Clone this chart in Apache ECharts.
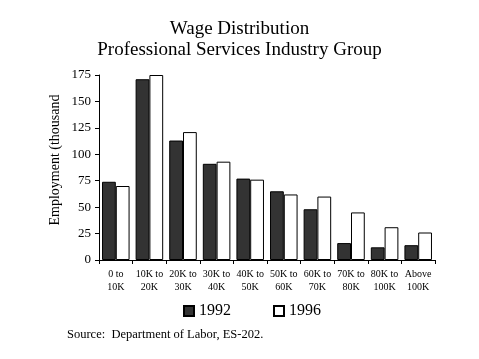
<!DOCTYPE html>
<html><head><meta charset="utf-8">
<script src="https://cdn.jsdelivr.net/npm/echarts@6/dist/echarts.min.js"></script>
<style>html,body{margin:0;padding:0;background:#fff}#c{width:479px;height:359px}</style>
</head><body><div id="c"></div>
<script>
const categories = ['0 to\n10K','10K to\n20K','20K to\n30K','30K to\n40K','40K to\n50K','50K to\n60K','60K to\n70K','70K to\n80K','80K to\n100K','Above\n100K'];
const values1992 = [74, 171, 113, 91, 77, 65, 48, 16, 12, 14];
const values1996 = [70, 175, 121, 93, 76, 62, 60, 45, 31, 26];
const yTicks = [0, 25, 50, 75, 100, 125, 150, 175];

const FONT = '"Liberation Serif", "DejaVu Serif", serif';
const chart = echarts.init(document.getElementById('c'));
chart.setOption({
  backgroundColor: '#fff',
  animation: false,
  textStyle: { fontFamily: FONT, color: '#000' },
  title: {
    text: 'Wage Distribution\nProfessional Services Industry Group',
    left: 'center', top: 14,
    textStyle: { fontFamily: FONT, fontSize: 19, fontWeight: 'normal', color: '#000', lineHeight: 21 }
  },
  legend: {
    data: ['1992', '1996'],
    left: 178, top: 298,
    itemWidth: 10, itemHeight: 10, itemGap: 42,
    textStyle: { fontFamily: FONT, fontSize: 16, color: '#000' },
    icon: 'rect'
  },
  grid: { left: 99, right: 44, top: 75, bottom: 99 },
  xAxis: {
    type: 'category', data: categories,
    axisLine: { lineStyle: { color: '#000', width: 1 } },
    axisTick: { show: true, inside: false, length: 4, lineStyle: { color: '#000' } },
    axisLabel: { fontFamily: FONT, fontSize: 10, color: '#000', lineHeight: 13, margin: 8, interval: 0 }
  },
  yAxis: {
    type: 'value', min: yTicks[0], max: yTicks[yTicks.length - 1], interval: 25,
    axisLine: { show: true, lineStyle: { color: '#000', width: 1 } },
    axisTick: { show: true, length: 4, lineStyle: { color: '#000' } },
    splitLine: { show: false },
    axisLabel: { fontFamily: FONT, fontSize: 13, color: '#000', margin: 8 }
  },
  series: [
    { name: '1992', type: 'bar', data: values1992, barGap: '0%', barCategoryGap: '18%',
      itemStyle: { color: '#333333', borderColor: '#000', borderWidth: 1 } },
    { name: '1996', type: 'bar', data: values1996,
      itemStyle: { color: '#ffffff', borderColor: '#000', borderWidth: 1 } }
  ],
  graphic: [
    { type: 'text', x: 55, y: 160, rotation: Math.PI / 2, originX: 0, originY: 0,
      style: { text: 'Employment (thousand', font: '14px ' + FONT, fill: '#000', align: 'center', verticalAlign: 'middle' } },
    { type: 'text', left: 67, top: 328,
      style: { text: 'Source:  Department of Labor, ES-202.', font: '12.5px ' + FONT, fill: '#000' } }
  ]
});
</script></body></html>
